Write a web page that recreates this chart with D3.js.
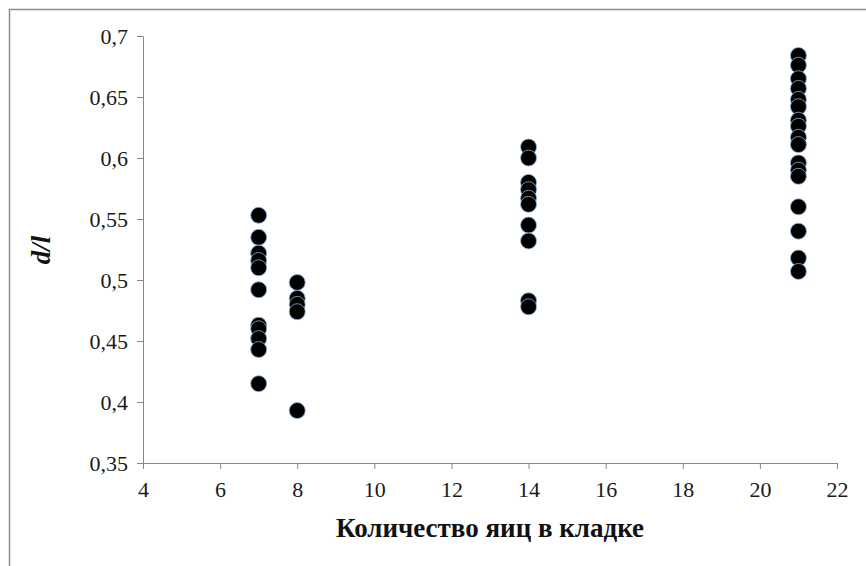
<!DOCTYPE html>
<html>
<head>
<meta charset="utf-8">
<script src="https://cdn.jsdelivr.net/npm/d3@7"></script>
</head>
<body style="margin:0">
<div id="chart"></div>
<script>
// clutch size (x) and d/l ratio (y) for each egg
const x7 = [0.553, 0.535, 0.522, 0.516, 0.510, 0.492, 0.463, 0.460, 0.452, 0.443, 0.415]
const x8 = [0.498, 0.485, 0.480, 0.474, 0.393]
const x14 = [0.609, 0.600, 0.580, 0.574, 0.567, 0.562, 0.545, 0.532, 0.483, 0.478]
const x21 = [0.684, 0.676, 0.665, 0.657, 0.648, 0.642, 0.631, 0.626, 0.617, 0.611,
             0.596, 0.590, 0.585, 0.560, 0.540, 0.518, 0.507]
const xTicks = [4, 6, 8, 10, 12, 14, 16, 18, 20, 22]
const yTicks = [0.35, 0.4, 0.45, 0.5, 0.55, 0.6, 0.65, 0.7]

const points = []
x7.forEach(v => points.push({ x: 7, y: v }))
x8.forEach(v => points.push({ x: 8, y: v }))
x14.forEach(v => points.push({ x: 14, y: v }))
x21.forEach(v => points.push({ x: 21, y: v }))

const svg = d3.select('#chart').append('svg')
  .attr('width', 866)
  .attr('height', 566)

// outer chart border (runs off the right/bottom edge)
svg.append('rect')
  .attr('x', 9.5).attr('y', 9.5)
  .attr('width', 880).attr('height', 580)
  .attr('fill', 'none')
  .attr('stroke', '#8c8c8c')
  .attr('stroke-width', 1.5)

const xScale = d3.scaleLinear().domain([4, 22]).range([143, 837])
const yScale = d3.scaleLinear().domain([0.35, 0.7]).range([463, 36])

const xAxis = svg.append('g')
  .attr('transform', 'translate(0,463)')
  .call(d3.axisBottom(xScale).tickValues(xTicks).tickSizeOuter(0).tickPadding(12))
const yAxis = svg.append('g')
  .attr('transform', 'translate(143,0)')
  .call(d3.axisLeft(yScale).tickValues(yTicks).tickSizeOuter(0).tickPadding(9)
    .tickFormat(d => String(d).replace('.', ',')))

xAxis.attr('font-size', 22).attr('font-family', 'Liberation Serif')
yAxis.attr('font-size', 22).attr('font-family', 'Liberation Serif')
xAxis.selectAll('text').attr('fill', '#1a1a1a')
  .style('font-family', 'Liberation Serif').style('font-size', '22px')
yAxis.selectAll('text').attr('fill', '#1a1a1a')
  .style('font-family', 'Liberation Serif').style('font-size', '22px')
xAxis.selectAll('path, line').attr('stroke', '#868686')
yAxis.selectAll('path, line').attr('stroke', '#868686')

svg.selectAll('circle.pt')
  .data(points)
  .enter()
  .append('circle')
  .attr('class', 'pt')
  .attr('cx', d => xScale(d.x))
  .attr('cy', d => yScale(d.y))
  .attr('r', 8)
  .attr('fill', '#000')
  .attr('stroke', '#8fb4dc')
  .attr('stroke-width', 0.8)

svg.append('text')
  .attr('x', 490)
  .attr('y', 537)
  .attr('text-anchor', 'middle')
  .attr('font-family', 'Liberation Serif')
  .attr('font-size', 27)
  .attr('font-weight', 'bold')
  .attr('fill', '#111')
  .text('Количество яиц в кладке')

svg.append('text')
  .attr('transform', 'translate(41,250) rotate(-90)')
  .attr('text-anchor', 'middle')
  .attr('dy', '0.35em')
  .attr('font-family', 'Liberation Serif')
  .attr('font-size', 27)
  .attr('font-weight', 'bold')
  .attr('font-style', 'italic')
  .attr('fill', '#111')
  .text('d/l')
</script>
</body>
</html>
